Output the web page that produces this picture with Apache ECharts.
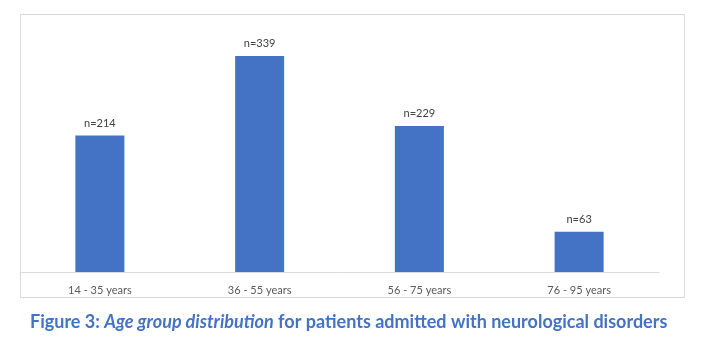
<!DOCTYPE html>
<html>
<head>
<meta charset="utf-8">
<script src="https://cdn.jsdelivr.net/npm/echarts@6/dist/echarts.min.js"></script>
<style>html,body{margin:0;padding:0;background:#fff;}#c{width:713px;height:362px;}</style>
</head>
<body>
<div id="c"></div>
<script>
var categories = ['14 - 35 years', '36 - 55 years', '56 - 75 years', '76 - 95 years'];
var counts = [214, 339, 229, 63];
var captionBold = 'Figure 3: ';
var captionItalic = 'Age group distribution';
var captionRest = ' for patients admitted with neurological disorders';

var chart = echarts.init(document.getElementById('c'));
chart.setOption({
  animation: false,
  backgroundColor: '#ffffff',
  grid: { left: 20, right: 54, top: 17, bottom: 90, containLabel: false },
  xAxis: {
    type: 'category',
    data: categories,
    axisLine: { lineStyle: { color: '#d9d9d9', width: 1 } },
    axisTick: { show: false },
    axisLabel: { color: '#595959', fontSize: 11, fontFamily: 'Lato', margin: 13 }
  },
  yAxis: {
    type: 'value', min: 0, max: 400,
    show: false,
    splitLine: { show: false }
  },
  series: [{
    type: 'bar',
    data: counts,
    barWidth: 49,
    itemStyle: { color: '#4472C4' },
    label: {
      show: true, position: 'top', distance: 7,
      formatter: function (p) { return 'n=' + p.value; },
      color: '#404040', fontSize: 11, fontFamily: 'Lato'
    }
  }],
  graphic: [
    {
      type: 'rect', shape: { x: 20.5, y: 14.5, width: 664, height: 283 },
      style: { fill: 'none', stroke: '#d9d9d9', lineWidth: 1 }, z: -1
    },
    {
      type: 'text', left: 30, top: 313,
      style: {
        text: '{b|' + captionBold + '}{i|' + captionItalic + '}{b|' + captionRest + '}',
        rich: {
          b: { fontFamily: 'Lato', fontWeight: 'bold', fontSize: 18, fill: '#4472C4' },
          i: { fontFamily: 'Lato', fontWeight: 'bold', fontStyle: 'italic', fontSize: 18, fill: '#4472C4' }
        }
      }
    }
  ]
});
</script>
</body>
</html>
